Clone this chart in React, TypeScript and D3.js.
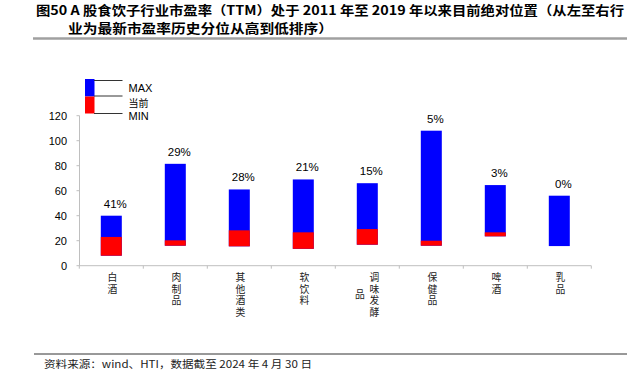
import React from "react";
import * as d3 from "d3";

const categories = ["白酒", "肉制品", "其他酒类", "软饮料", "调味发酵品", "保健品", "啤酒", "乳品"];
const maxVals = [40, 81.5, 61, 69, 66, 108, 64.5, 56];
const curVals = [23, 20.3, 28.3, 26.7, 29.3, 20, 26.7, 15.7];
const minVals = [8, 16, 15.5, 13.5, 16.8, 16, 23.5, 15.7];
const pctLabels = ["41%", "29%", "28%", "21%", "15%", "5%", "3%", "0%"];
const yTicks = [0, 20, 40, 60, 80, 100, 120];

const titleLine1 = "图50 A 股食饮子行业市盈率（TTM）处于 2011 年至 2019 年以来目前绝对位置（从左至右行";
const titleLine2 = "业为最新市盈率历史分位从高到低排序）";
const sourceText = "资料来源：wind、HTI，数据截至 2024 年 4 月 30 日";
const legendLabels = ["MAX", "当前", "MIN"];

const W = 629;
const H = 374;
const latin = "'Liberation Sans', Arial, sans-serif";
const cjk = "'Noto Sans CJK SC', 'Liberation Sans', sans-serif";

export default function App() {
  const y = d3.scaleLinear().domain([0, 120]).range([265.7, 115.7]);
  const x = d3.scaleBand<string>().domain(categories).range([79.3, 591.3]).padding(0);
  const bw = 21;
  const fs = 9.8;
  const charStep = 11.8;
  const maxPerCol = 4;

  return (
    <svg width={W} height={H} style={{ position: "absolute", left: 0, top: 0, background: "#fff" }}>
      {/* Title */}
      <text x={36} y={14.5} fontFamily={cjk} fontWeight="bold" fontSize={12.6} fill="#000"
        textLength={588} lengthAdjust="spacingAndGlyphs">{titleLine1}</text>
      <text x={68} y={33} fontFamily={cjk} fontWeight="bold" fontSize={12.6} fill="#000"
        textLength={265} lengthAdjust="spacingAndGlyphs">{titleLine2}</text>
      <line x1={33} x2={627} y1={38.5} y2={38.5} stroke="#a0a0a0" strokeWidth={2.5} />

      {/* Legend */}
      <rect x={85} y={79} width={9.5} height={17.5} fill="#0000ff" />
      <rect x={85} y={96.5} width={9.5} height={17} fill="#ff0000" />
      {[80.5, 96, 113.5].map((ly, i) => (
        <line key={i} x1={94} x2={122.5} y1={ly} y2={ly} stroke="#333" strokeWidth={1} />
      ))}
      {legendLabels.map((l, i) => (
        <text key={l} x={128.5} y={[92, 106.5, 120][i]} fontFamily={i === 1 ? cjk : latin}
          fontSize={i === 1 ? 10 : 11} fill="#000">{l}</text>
      ))}

      {/* Y axis */}
      <line x1={79.5} x2={79.5} y1={y(120)} y2={y(0)} stroke="#bfbfbf" strokeWidth={1} />
      {yTicks.map((t) => (
        <g key={t}>
          <line x1={76.5} x2={79.5} y1={y(t)} y2={y(t)} stroke="#bfbfbf" strokeWidth={1} />
          <text x={67} y={y(t) + 4} textAnchor="end" fontFamily={latin} fontSize={11} fill="#000">{t}</text>
        </g>
      ))}

      {/* X axis */}
      <line x1={79.3} x2={591.3} y1={y(0)} y2={y(0)} stroke="#bfbfbf" strokeWidth={1} />
      {categories.map((c) => (
        <line key={"t" + c} x1={(x(c) as number)} x2={(x(c) as number)} y1={y(0)} y2={y(0) + 3}
          stroke="#bfbfbf" strokeWidth={1} />
      ))}
      <line x1={591.3} x2={591.3} y1={y(0)} y2={y(0) + 3} stroke="#bfbfbf" strokeWidth={1} />

      {/* Bars */}
      {categories.map((c, i) => {
        const cx = (x(c) as number) + x.bandwidth() / 2;
        return (
          <g key={c}>
            <rect x={cx - bw / 2} y={y(maxVals[i])} width={bw} height={y(minVals[i]) - y(maxVals[i])} fill="#0000ff" />
            {curVals[i] > minVals[i] && (
              <rect x={cx - bw / 2} y={y(curVals[i])} width={bw} height={y(minVals[i]) - y(curVals[i])} fill="#ff0000" />
            )}
            <text x={cx + 4} y={y(maxVals[i]) - 8} textAnchor="middle" fontFamily={latin} fontSize={11.5} fill="#000">
              {pctLabels[i]}
            </text>
          </g>
        );
      })}

      {/* Category labels: vertical text, one text element per column */}
      {categories.map((c) => {
        const cx = (x(c) as number) + x.bandwidth() / 2;
        const chars = Array.from(c);
        const cols: string[] = [];
        for (let k = 0; k < chars.length; k += maxPerCol) cols.push(chars.slice(k, k + maxPerCol).join(""));
        const firstLen = Array.from(cols[0]).length;
        return (
          <g key={"l" + c}>
            {cols.map((col, ci) => {
              const colX = cols.length === 1 ? cx + 1 : cx + 7 - ci * 14.5;
              const len = Array.from(col).length;
              const offset = ((firstLen - len) * charStep) / 2;
              return (
                <text key={ci} x={colX} y={277 - fs / 2 + offset}
                  style={{ writingMode: "vertical-rl", textOrientation: "upright", letterSpacing: `${charStep - fs}px` }}
                  fontFamily={cjk} fontSize={fs} fill="#222">
                  {col}
                </text>
              );
            })}
          </g>
        );
      })}

      {/* Footer */}
      <line x1={34} x2={627} y1={354} y2={354} stroke="#333" strokeWidth={1} />
      <text x={44} y={368} fontFamily={cjk} fontSize={10.5} fill="#222" textLength={268} lengthAdjust="spacingAndGlyphs">
        {sourceText}
      </text>
    </svg>
  );
}
